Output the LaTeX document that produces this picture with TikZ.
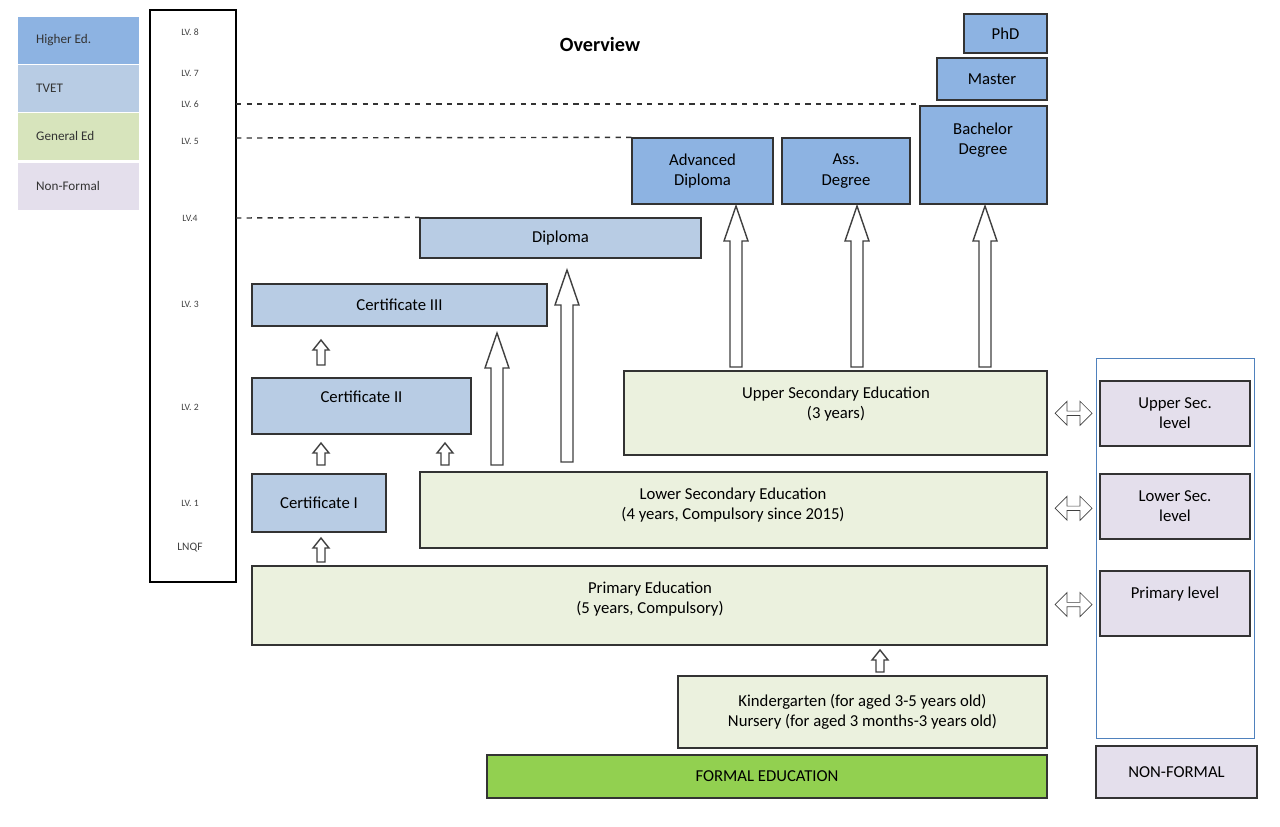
\documentclass[tikz,border=0pt]{standalone}
\usepackage{fontspec}
\setmainfont{Carlito}
\usetikzlibrary{shapes.arrows,calc}
\definecolor{higher}{HTML}{8DB3E2}
\definecolor{tvet}{HTML}{B8CCE4}
\definecolor{general}{HTML}{EBF1DE}
\definecolor{genlegend}{HTML}{D7E4BC}
\definecolor{nonformal}{HTML}{E4DFEC}
\definecolor{formal}{HTML}{92D050}
\definecolor{frameblue}{HTML}{4F81BD}
\tikzset{
  box/.style={draw=black!80, thick, align=center, font=\fontsize{9.5}{11.5}\selectfont},
  legend/.style={anchor=west, align=left, font=\fontsize{7.5}{9}\selectfont, text=black!80},
  lv/.style={font=\fontsize{5.5}{6.5}\selectfont, text=black!75},
  level line/.style={draw, thick, dashed, black!80},
  block/.style={draw=black!75, fill=white, thick}
  }
% block arrow pointing up: x, top, bottom, half shaft, half head, head length
\newcommand\blockup[6]{%
  \path[block] (#1-#4,#3) -- (#1+#4,#3) -- (#1+#4,#2+#6) -- (#1+#5,#2+#6)
    -- (#1,#2) -- (#1-#5,#2+#6) -- (#1-#4,#2+#6) -- cycle;}
\newcommand\boxat[5]{\node[box, fill=#5, minimum width={(#3-#1)*0.02cm}, minimum height={(#4-#2)*0.02cm}]}
\begin{document}
\begin{tikzpicture}[x=0.02cm, y=-0.02cm]
  \useasboundingbox (0,0) rectangle (1280,826);

  % Legend
  \foreach \y/\c/\t in {17/higher/Higher Ed., 65/tvet/TVET, 113/genlegend/General Ed, 163/nonformal/Non-Formal}{
    \fill[\c] (18,\y) rectangle (139,\y+47);
    \node[legend] (leg-\c) at (30,\y+23) {\t};
  }

  % The LNQF column
  \draw[thick] (150,10) rectangle (236,582);
  \foreach \y/\t in {32/LV. 8, 73/LV. 7, 104/LV. 6, 141/LV. 5, 218/LV.4, 304/LV. 3, 407/LV. 2, 503/LV. 1}
    \node[lv] at (190,\y) {\t};
  \node[lv, font=\fontsize{6.5}{7}\selectfont] (lnqf) at (190,548) {LNQF};
  \coordinate (lv6) at (236,104);
  \coordinate (lv5) at (236,138);
  \coordinate (lv4) at (236,218);

  \node[font=\bfseries\fontsize{11.5}{13}\selectfont] (title) at (600,44) {Overview};

  % Higher education
  \boxat{964}{14}{1047}{53}{higher} (phd) at (1005.5,33.5) {PhD};
  \boxat{937}{58}{1047}{100}{higher} (master) at (992,79) {Master};
  \boxat{920}{106}{1047}{204}{higher} (bachelor) at (983.5,155) {};
  \node[box, draw=none] at (983,140) {Bachelor\\Degree};
  \boxat{632}{138}{773}{204}{higher} (advdip) at (702.5,171) {Advanced\\Diploma};
  \boxat{782}{138}{910}{204}{higher} (assdeg) at (846,171) {Ass.\\Degree};

  % TVET
  \boxat{420}{218}{701}{258}{tvet} (diploma) at (560.5,238) {Diploma};
  \boxat{252}{284}{547}{326}{tvet} (cert3) at (399.5,305) {Certificate III};
  \boxat{252}{378}{471}{434}{tvet} (cert2) at (361.5,406) {};
  \node[box, draw=none] at (361.5,397) {Certificate II};
  \boxat{252}{474}{386}{532}{tvet} (cert1) at (319,503) {Certificate I};

  % General education
  \boxat{624}{371}{1047}{455}{general} (upper) at (835.5,413) {};
  \node[box, draw=none] at (836,404) {Upper Secondary Education\\(3 years)};
  \boxat{420}{472}{1047}{548}{general} (lower) at (733.5,510) {};
  \node[box, draw=none] at (733,505) {Lower Secondary Education\\(4 years, Compulsory since 2015)};
  \boxat{252}{566}{1047}{645}{general} (primary) at (649.5,605.5) {};
  \node[box, draw=none] at (650,599) {Primary Education\\(5 years, Compulsory)};
  \boxat{678}{676}{1047}{748}{general} (kinder) at (862.5,712) {Kindergarten (for aged 3-5 years old)\\Nursery (for aged 3 months-3 years old)};
  \boxat{487}{755}{1047}{798}{formal} (formal) at (767,776.5) {FORMAL EDUCATION};

  % Non-formal
  \draw[frameblue] (1096,358) rectangle (1254,738);
  \boxat{1100}{381}{1250}{446}{nonformal} (nfupper) at (1175,413.5) {Upper Sec.\\level};
  \boxat{1100}{474}{1250}{539}{nonformal} (nflower) at (1175,506.5) {Lower Sec.\\level};
  \boxat{1100}{571}{1250}{636}{nonformal} (nfprimary) at (1175,603.5) {};
  \node[box, draw=none] at (1175,594) {Primary level};
  \boxat{1096}{746}{1257}{798}{nonformal} (nonformal) at (1176.5,772) {NON-FORMAL};

  % Level lines
  \draw[level line] (lv6) -- (bachelor.north west |- lv6);
  \draw[level line] (lv5) -- (advdip.north west);
  \draw[level line] (lv4) -- (diploma.north west);

  % Progression arrows
  \foreach \x/\t/\b in {321/340/365, 321/443/465, 445/443/465, 321/538/562, 880/650/672}
    {\blockup{\x}{\t}{\b}{4}{8}{10}}
  \foreach \x/\t/\b in {497/333/465, 567/270/462, 736/206/367, 857/206/367, 985/206/367}
    {\blockup{\x}{\t}{\b}{6}{12}{35}}

  % Equivalences
  \foreach \src/\dst in {upper/nfupper, lower/nflower, primary/nfprimary}
    \node[double arrow, draw=black!75, minimum height=0.74cm, minimum width=0.48cm,
      double arrow head extend=0.08cm, inner sep=0.3pt] at ($(\src.east)!0.5!(\dst.west)$) {};
\end{tikzpicture}
\end{document}
